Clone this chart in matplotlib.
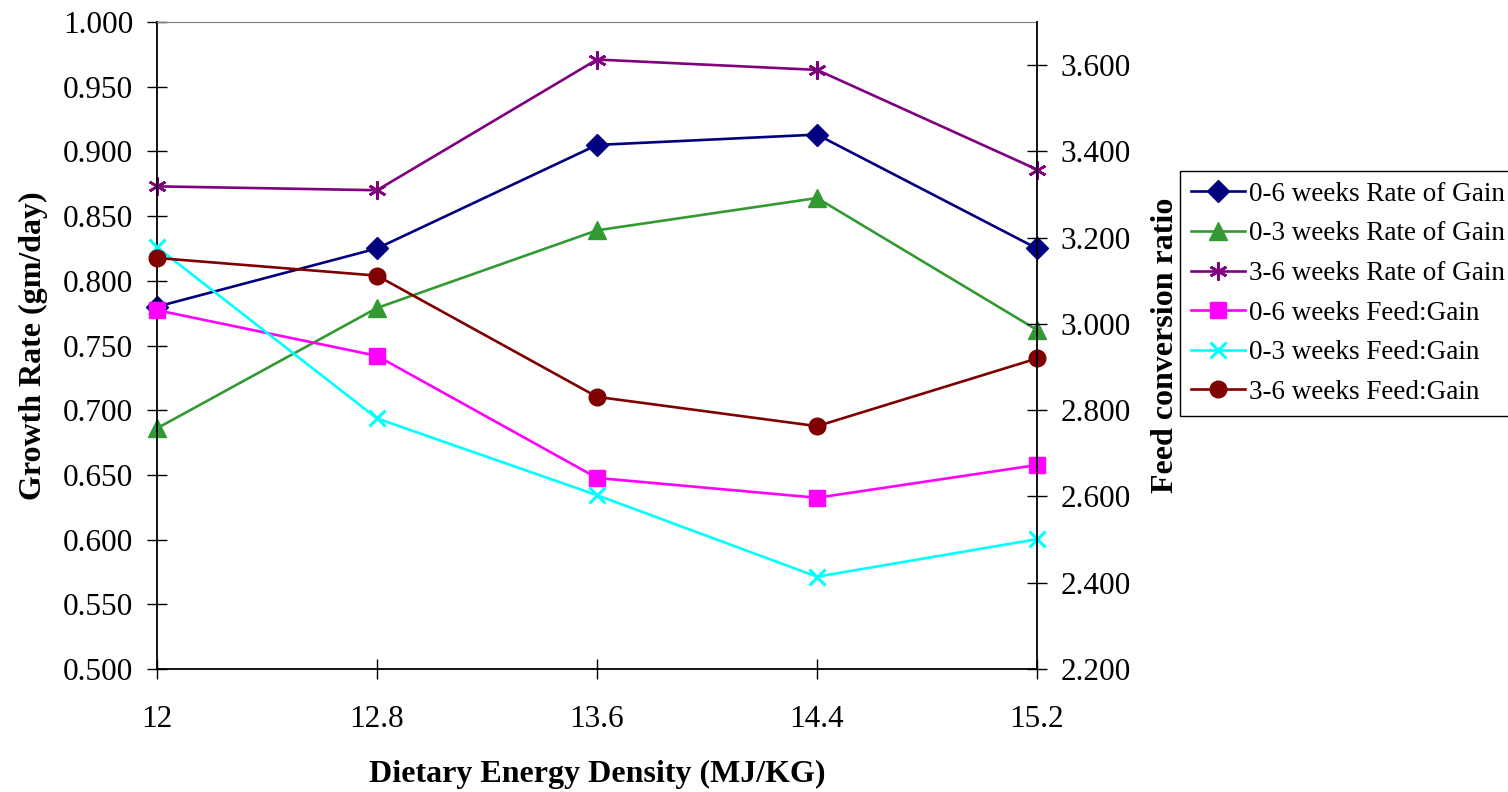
import matplotlib
matplotlib.use("Agg")
import matplotlib.pyplot as plt
from matplotlib.ticker import FormatStrFormatter

plt.rcParams['font.family'] = ['Liberation Serif', 'DejaVu Serif']

# dietary energy density levels (MJ/KG)
energy = [12.0, 12.8, 13.6, 14.4, 15.2]

# growth rate (gm/day), left axis
gain_0_6 = [0.780, 0.825, 0.905, 0.913, 0.825]
gain_0_3 = [0.686, 0.779, 0.839, 0.864, 0.762]
gain_3_6 = [0.873, 0.870, 0.971, 0.963, 0.886]

# feed conversion ratio, right axis
fcr_0_6 = [3.032, 2.926, 2.643, 2.597, 2.673]
fcr_0_3 = [3.178, 2.781, 2.603, 2.414, 2.501]
fcr_3_6 = [3.153, 3.112, 2.831, 2.763, 2.920]

left_ticks = [0.500, 0.550, 0.600, 0.650, 0.700, 0.750, 0.800, 0.850,
              0.900, 0.950, 1.000]
right_ticks = [2.2, 2.4, 2.6, 2.8, 3.0, 3.2, 3.4, 3.6]

fig = plt.figure(figsize=(15.08, 7.92), dpi=100)
ax = fig.add_axes([0.1041, 0.1553, 0.5836, 0.8169])
ax2 = ax.twinx()

lw = 1.9
h1, = ax.plot(energy, gain_0_6, color='#000080', marker='D', markersize=11, lw=lw,
              label='0-6 weeks Rate of Gain')
h2, = ax.plot(energy, gain_0_3, color='#339933', marker='^', markersize=13, lw=lw,
              label='0-3 weeks Rate of Gain')
h3, = ax.plot(energy, gain_3_6, color='#800080', marker=(6, 2, 0), markersize=13,
              markeredgewidth=1.9, lw=lw, label='3-6 weeks Rate of Gain')
h4, = ax2.plot(energy, fcr_0_6, color='#FF00FF', marker='s', markersize=11.5, lw=lw,
               label='0-6 weeks Feed:Gain')
h5, = ax2.plot(energy, fcr_0_3, color='#00FFFF', marker='x', markersize=12,
               markeredgewidth=2.2, lw=lw, label='0-3 weeks Feed:Gain')
h6, = ax2.plot(energy, fcr_3_6, color='#800000', marker='o', markersize=12, lw=lw,
               label='3-6 weeks Feed:Gain')

# markers sit on the axis edges, so don't clip them
for line in (h1, h2, h3, h4, h5, h6):
    line.set_clip_on(False)

ax.set_xlim(12.0, 15.2)
ax.set_xticks(energy)
ax.set_xticklabels(['12', '12.8', '13.6', '14.4', '15.2'])
ax.set_ylim(0.5, 1.0)
ax.set_yticks(left_ticks)
ax.yaxis.set_major_formatter(FormatStrFormatter('%.3f'))
ax2.set_ylim(2.2, 3.7)
ax2.set_yticks(right_ticks)
ax2.yaxis.set_major_formatter(FormatStrFormatter('%.3f'))

for a in (ax, ax2):
    a.tick_params(direction='inout', length=14, width=1, labelsize=22.5, colors='black')
ax.tick_params(axis='x', pad=19)
ax.tick_params(axis='y', pad=10)
ax2.tick_params(axis='y', pad=10)

ax.spines['top'].set_color('#808080')
ax.spines['right'].set_visible(False)
ax2.spines['top'].set_visible(False)
ax2.spines['left'].set_visible(False)
ax2.spines['bottom'].set_visible(False)
for s in ('left', 'bottom'):
    ax.spines[s].set_linewidth(1.3)
ax2.spines['right'].set_linewidth(1.3)

ax.set_xlabel('Dietary Energy Density (MJ/KG)', fontsize=23, fontweight='bold')
ax.xaxis.set_label_coords(0.5, -0.163)
ax.xaxis.label.set_va('center')
ax.set_ylabel('Growth Rate (gm/day)', fontsize=23, fontweight='bold')
ax.yaxis.set_label_coords(-0.14, 0.5)
ax.yaxis.label.set_va('center')
ax2.set_ylabel('Feed conversion ratio', fontsize=23, fontweight='bold')
ax2.yaxis.set_label_coords(1.146, 0.5)
ax2.yaxis.label.set_va('center')
ax2.yaxis.label.set_rotation(90)

leg = fig.legend(handles=[h1, h2, h3, h4, h5, h6], loc='upper left',
                 bbox_to_anchor=(1180 / 1508, 1 - 171 / 792), fontsize=19.5,
                 frameon=True, fancybox=False, edgecolor='black', framealpha=1,
                 borderpad=0.4, labelspacing=0.54, handlelength=2.0,
                 handletextpad=0.15, borderaxespad=0)
leg.get_frame().set_linewidth(1.0)

fig.savefig('out.png', dpi=100)
